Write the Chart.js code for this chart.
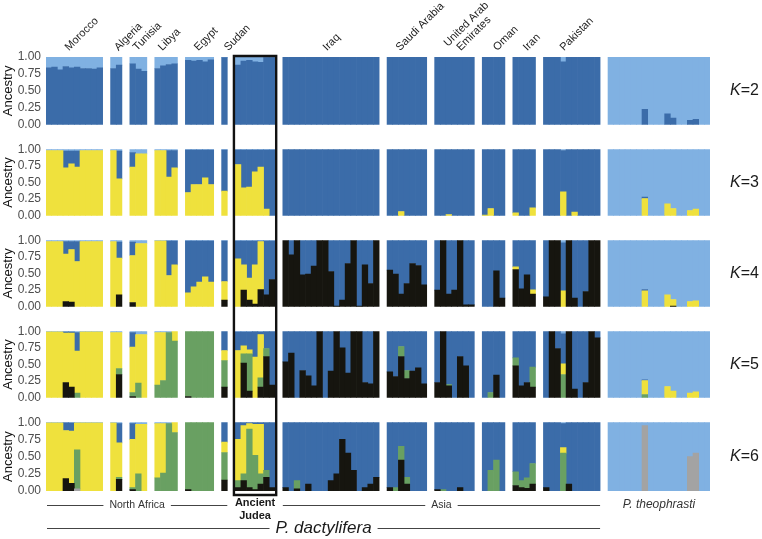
<!DOCTYPE html>
<html>
<head>
<meta charset="utf-8">
<script src="https://cdn.jsdelivr.net/npm/chart.js@4.4.1/dist/chart.umd.min.js"></script>
<style>
  body { margin: 0; background: #fff; }
  #wrap { position: relative; width: 762px; height: 539px; overflow: hidden; }
  #wrap canvas { position: absolute; left: 0; }
</style>
</head>
<body>
<div id="wrap"></div>
<script>
// populations in plot order and number of individuals in each
const populations = ['Morocco', 'Algeria', 'Tunisia', 'Libya', 'Egypt', 'Sudan', 'Ancient Judea',
  'Iraq', 'Saudi Arabia', 'United Arab Emirates', 'Oman', 'Iran', 'Pakistan', 'P. theophrasti'];
const popSizes = [10, 2, 3, 4, 5, 1, 7, 17, 7, 7, 4, 4, 10, 18];
const popLabels = ['Morocco', 'Algeria', 'Tunisia', 'Libya', 'Egypt', 'Sudan', '',
  'Iraq', 'Saudi Arabia', 'United Arab\nEmirates', 'Oman', 'Iran', 'Pakistan', ''];
const kValues = [2, 3, 4, 5, 6];
const yTicks = [0, 0.25, 0.5, 0.75, 1];

// ancestry proportions, one value per individual (groups on separate lines)
// K=2
const k2Blue = [
  .84, .85, .81, .86, .84, .85, .83, .83, .82, .84,
  .83, .88,
  .90, .82, .79,
  .83, .87, .89, .90,
  .95, .94, .95, .93, .96,
  .99,
  .88, .94, .95, .93, .92, .99, .99,
  1, 1, 1, 1, 1, 1, 1, 1, 1, 1, 1, 1, 1, 1, 1, 1, 1,
  1, 1, 1, 1, 1, 1, 1,
  1, 1, 1, 1, 1, 1, 1,
  1, 1, 1, 1,
  1, 1, 1, 1,
  1, 1, 1, .93, 1, 1, 1, 1, 1, 1,
  0, 0, 0, 0, 0, 0, .23, 0, 0, 0, .16, .10, 0, 0, .065, .08, 0, 0
];
const k2Light = [
  .16, .15, .19, .14, .16, .15, .17, .17, .18, .16,
  .17, .12,
  .10, .18, .21,
  .17, .13, .11, .10,
  .05, .06, .05, .07, .04,
  .01,
  .12, .06, .05, .07, .08, .01, .01,
  0, 0, 0, 0, 0, 0, 0, 0, 0, 0, 0, 0, 0, 0, 0, 0, 0,
  0, 0, 0, 0, 0, 0, 0,
  0, 0, 0, 0, 0, 0, 0,
  0, 0, 0, 0,
  0, 0, 0, 0,
  0, 0, 0, .07, 0, 0, 0, 0, 0, 0,
  1, 1, 1, 1, 1, 1, .77, 1, 1, 1, .84, .90, 1, 1, .935, .92, 1, 1
];

// K=3
const k3Yellow = [
  .98, .98, .98, .72, .78, .73, .98, .98, .98, .98,
  .98, .555,
  .73, .93, .93,
  .98, .98, .58, .72,
  .35, .47, .47, .57, .47,
  .37,
  .77, .42, .43, .66, .73, .10, 0,
  0, 0, 0, 0, 0, 0, 0, 0, 0, 0, 0, 0, 0, 0, 0, 0, 0,
  0, 0, .065, 0, 0, 0, 0,
  0, 0, .02, 0, 0, 0, 0,
  .01, .11, 0, 0,
  .045, 0, 0, .12,
  0, 0, 0, .36, 0, .055, 0, 0, 0, 0,
  0, 0, 0, 0, 0, 0, .26, 0, 0, 0, .18, .11, 0, 0, .08, .10, 0, 0
];
const k3Blue = [
  0, 0, 0, .25, .19, .24, 0, 0, 0, 0,
  0, .415,
  .22, 0, 0,
  0, 0, .40, .26,
  .64, .52, .52, .42, .52,
  .62,
  .22, .57, .56, .33, .26, .89, .99,
  1, 1, 1, 1, 1, 1, 1, 1, 1, 1, 1, 1, 1, 1, 1, 1, 1,
  1, 1, .935, 1, 1, 1, 1,
  1, 1, .98, 1, 1, 1, 1,
  .99, .89, 1, 1,
  .955, 1, 1, .88,
  1, 1, 1, .62, 1, .945, 1, 1, 1, 1,
  0, 0, 0, 0, 0, 0, .02, 0, 0, 0, 0, 0, 0, 0, 0, 0, 0, 0
];
const k3Light = [
  .02, .02, .02, .03, .03, .03, .02, .02, .02, .02,
  .02, .03,
  .05, .07, .07,
  .02, .02, .02, .02,
  .01, .01, .01, .01, .01,
  .01,
  .01, .01, .01, .01, .01, .01, .01,
  0, 0, 0, 0, 0, 0, 0, 0, 0, 0, 0, 0, 0, 0, 0, 0, 0,
  0, 0, 0, 0, 0, 0, 0,
  0, 0, 0, 0, 0, 0, 0,
  0, 0, 0, 0,
  0, 0, 0, 0,
  0, 0, 0, .02, 0, 0, 0, 0, 0, 0,
  1, 1, 1, 1, 1, 1, .72, 1, 1, 1, .82, .89, 1, 1, .92, .90, 1, 1
];

// K=4
const k4Black = [
  0, 0, 0, .08, .07, 0, 0, 0, 0, 0,
  0, .18,
  .065, 0, 0,
  0, 0, 0, 0,
  0, 0, 0, 0, 0,
  .10,
  0, .25, .10, .04, .26, .18, .41,
  1, .78, 1, .48, .49, .61, 1, 1, .53, .01, .10, .65, 1, .01, .63, .35, 1,
  .55, .49, .19, .35, .65, .62, .33,
  .25, 1, .19, .25, 1, .03, .03,
  0, 0, .54, .13,
  .56, .27, .48, .19,
  .15, 1, 1, 0, 1, .13, 0, .23, 1, 1,
  0, 0, 0, 0, 0, 0, 0, 0, 0, 0, 0, .01, 0, 0, 0, 0, 0, 0
];
const k4Yellow = [
  .98, .98, .98, .71, .79, .68, .98, .98, .98, .98,
  .98, .55,
  .705, .95, .95,
  .99, .99, .47, .63,
  .21, .30, .37, .45, .37,
  .28,
  .72, .38, .33, .59, .72, 0, 0,
  0, 0, 0, 0, 0, 0, 0, 0, 0, 0, 0, 0, 0, 0, 0, 0, 0,
  0, 0, 0, 0, 0, 0, 0,
  0, 0, 0, 0, 0, 0, 0,
  0, 0, 0, 0,
  .04, 0, 0, .065,
  0, 0, 0, .24, 0, 0, 0, 0, 0, 0,
  0, 0, 0, 0, 0, 0, .24, 0, 0, 0, .18, .10, 0, 0, .08, .09, 0, 0
];
const k4Blue = [
  0, 0, 0, .19, .12, .30, 0, 0, 0, 0,
  0, .24,
  .20, 0, 0,
  0, 0, .52, .36,
  .78, .69, .62, .54, .62,
  .61,
  .27, .36, .56, .36, .01, .81, .58,
  0, .22, 0, .52, .51, .39, 0, 0, .47, .99, .90, .35, 0, .99, .37, .65, 0,
  .45, .51, .81, .65, .35, .38, .67,
  .75, 0, .81, .75, 0, .97, .97,
  1, 1, .46, .87,
  .40, .73, .52, .745,
  .85, 0, 0, .72, 0, .87, 1, .77, 0, 0,
  0, 0, 0, 0, 0, 0, .02, 0, 0, 0, 0, 0, 0, 0, 0, 0, 0, 0
];
const k4Light = [
  .02, .02, .02, .02, .02, .02, .02, .02, .02, .02,
  .02, .03,
  .03, .05, .05,
  .01, .01, .01, .01,
  .01, .01, .01, .01, .01,
  .01,
  .01, .01, .01, .01, .01, .01, .01,
  0, 0, 0, 0, 0, 0, 0, 0, 0, 0, 0, 0, 0, 0, 0, 0, 0,
  0, 0, 0, 0, 0, 0, 0,
  0, 0, 0, 0, 0, 0, 0,
  0, 0, 0, 0,
  0, 0, 0, 0,
  0, 0, 0, .04, 0, 0, 0, 0, 0, 0,
  1, 1, 1, 1, 1, 1, .74, 1, 1, 1, .82, .89, 1, 1, .92, .91, 1, 1
];

// K=5
const k5Black = [
  0, 0, 0, .23, .16, 0, 0, 0, 0, 0,
  0, .35,
  .02, 0, 0,
  0, 0, 0, 0,
  .02, 0, 0, 0, 0,
  .16,
  0, .52, .10, 0, .16, .62, .19,
  .54, .67, 0, .41, .33, .18, 1, 0, .40, 1, .75, .37, 1, 1, .23, .21, 1,
  .39, .32, .62, .29, .40, .45, .21,
  .23, 1, .18, 0, .62, .48, 0,
  0, 0, .34, 0,
  .48, .18, .23, .16,
  0, 1, .74, 0, 1, .13, 0, .23, 1, .90,
  0, 0, 0, 0, 0, 0, 0, 0, 0, 0, 0, 0, 0, 0, 0, 0, 0, 0
];
const k5Green = [
  0, 0, 0, 0, 0, .07, 0, 0, 0, 0,
  0, .09,
  .06, .22, 0,
  .19, .26, .98, .85,
  .98, 1, 1, 1, 1,
  .40,
  0, .14, .56, 0, .14, .12, 0,
  0, 0, 0, 0, 0, 0, 0, 0, 0, 0, 0, 0, 0, 0, 0, 0, 0,
  0, 0, .15, .12, 0, 0, 0,
  0, 0, .02, 0, 0, 0, 0,
  0, .08, 0, 0,
  .12, 0, 0, .30,
  0, 0, 0, .35, 0, 0, 0, 0, 0, 0,
  0, 0, 0, 0, 0, 0, .05, 0, 0, 0, 0, 0, 0, 0, 0, 0, 0, 0
];
const k5Yellow = [
  .99, .99, .99, .74, .81, .63, .99, .99, .99, .99,
  .98, .54,
  .68, .73, .95,
  .79, .72, 0, .15,
  0, 0, 0, 0, 0,
  .15,
  .71, .12, .06, .61, .65, 0, 0,
  0, 0, 0, 0, 0, 0, 0, 0, 0, 0, 0, 0, 0, 0, 0, 0, 0,
  0, 0, 0, 0, 0, 0, 0,
  0, 0, 0, 0, 0, 0, 0,
  0, 0, 0, 0,
  0, 0, 0, 0,
  0, 0, 0, .16, 0, 0, 0, 0, 0, 0,
  0, 0, 0, 0, 0, 0, .21, 0, 0, 0, .17, .10, 0, 0, .07, .09, 0, 0
];
const k5Blue = [
  0, 0, 0, .02, .02, .28, 0, 0, 0, 0,
  0, 0,
  .22, 0, 0,
  0, 0, 0, 0,
  0, 0, 0, 0, 0,
  .29,
  .28, .21, .27, .39, .04, .26, .81,
  .46, .33, 1, .59, .67, .82, 0, 1, .60, 0, .25, .63, 0, 0, .77, .79, 0,
  .61, .68, .23, .59, .60, .55, .79,
  .77, 0, .80, 1, .38, .52, 1,
  1, .92, .66, 1,
  .40, .82, .77, .54,
  1, 0, .26, .45, 0, .87, 1, .77, 0, .10,
  0, 0, 0, 0, 0, 0, .01, 0, 0, 0, 0, 0, 0, 0, 0, 0, 0, 0
];
const k5Light = [
  .01, .01, .01, .01, .01, .02, .01, .01, .01, .01,
  .02, .02,
  .02, .05, .05,
  .02, .02, .02, 0,
  0, 0, 0, 0, 0,
  0,
  .01, .01, .01, 0, .01, 0, 0,
  0, 0, 0, 0, 0, 0, 0, 0, 0, 0, 0, 0, 0, 0, 0, 0, 0,
  0, 0, 0, 0, 0, 0, 0,
  0, 0, 0, 0, 0, 0, 0,
  0, 0, 0, 0,
  0, 0, 0, 0,
  0, 0, 0, .04, 0, 0, 0, 0, 0, 0,
  1, 1, 1, 1, 1, 1, .73, 1, 1, 1, .83, .90, 1, 1, .93, .91, 1, 1
];

// K=6
const k6Gray = [
  0, 0, 0, 0, 0, .03, 0, 0, 0, 0,
  0, 0,
  0, 0, 0,
  0, 0, 0, 0,
  0, 0, 0, 0, 0,
  0,
  0, 0, 0, 0, 0, 0, 0,
  0, 0, 0, 0, 0, 0, 0, 0, 0, 0, 0, 0, 0, 0, 0, 0, 0,
  0, 0, 0, 0, 0, 0, 0,
  0, 0, 0, 0, 0, 0, 0,
  0, 0, 0, 0,
  0, 0, 0, 0,
  0, 0, 0, 0, 0, 0, 0, 0, 0, 0,
  0, 0, 0, 0, 0, 0, .95, 0, 0, 0, 0, 0, 0, 0, .50, .55, 0, 0
];
const k6Black = [
  0, 0, 0, .18, .11, 0, 0, 0, 0, 0,
  0, .17,
  .02, 0, 0,
  0, 0, 0, 0,
  .02, 0, 0, 0, 0,
  .16,
  .05, .15, .05, .02, .10, .20, .05,
  .05, 0, .03, 0, .10, 0, 0, 0, .15, .25, .75, .55, .30, 0, .05, .10, .20,
  .05, 0, .45, .10, 0, 0, 0,
  .02, 0, 0, 0, .05, 0, 0,
  0, 0, 0, 0,
  .08, .05, .04, .10,
  .05, 0, 0, 0, .10, 0, 0, 0, 0, 0,
  0, 0, 0, 0, 0, 0, 0, 0, 0, 0, 0, 0, 0, 0, 0, 0, 0, 0
];
const k6Green = [
  0, 0, 0, 0, 0, .57, 0, 0, 0, 0,
  0, .03,
  .03, .25, 0,
  .19, .26, .98, .85,
  .98, 1, 1, 1, 1,
  .40,
  .10, .10, .85, .50, .15, .10, 0,
  0, 0, .12, 0, 0, 0, 0, 0, 0, 0, 0, 0, 0, 0, 0, 0, 0,
  0, .05, .20, .10, 0, 0, 0,
  0, .02, 0, 0, 0, 0, 0,
  0, .30, .45, 0,
  .20, .10, .15, .30,
  0, 0, 0, .55, 0, 0, 0, 0, 0, 0,
  0, 0, 0, 0, 0, 0, 0, 0, 0, 0, 0, 0, 0, 0, 0, 0, 0, 0
];
const k6Yellow = [
  .99, .99, .99, .70, .76, .39, .99, .99, .99, .99,
  .99, .50,
  .70, .72, .97,
  .79, .72, 0, .15,
  0, 0, 0, 0, 0,
  .15,
  .60, .70, .08, .45, .72, 0, 0,
  0, 0, 0, 0, 0, 0, 0, 0, 0, 0, 0, 0, 0, 0, 0, 0, 0,
  0, 0, 0, 0, 0, 0, 0,
  0, 0, 0, 0, 0, 0, 0,
  0, 0, 0, 0,
  0, 0, 0, 0,
  0, 0, 0, .08, 0, 0, 0, 0, 0, 0,
  0, 0, 0, 0, 0, 0, 0, 0, 0, 0, 0, 0, 0, 0, 0, 0, 0, 0
];
const k6Blue = [
  0, 0, 0, .115, .12, 0, 0, 0, 0, 0,
  0, .28,
  .23, 0, 0,
  0, 0, 0, 0,
  0, 0, 0, 0, 0,
  .29,
  .25, .05, .02, .03, .03, .70, .95,
  .95, 1, .85, 1, .90, 1, 1, 1, .85, .75, .25, .45, .70, 1, .95, .90, .80,
  .95, .95, .35, .80, 1, 1, 1,
  .98, .98, 1, 1, .95, 1, 1,
  1, .70, .55, 1,
  .72, .85, .81, .60,
  .95, 1, 1, .35, .90, 1, 1, 1, 1, 1,
  0, 0, 0, 0, 0, 0, 0, 0, 0, 0, 0, 0, 0, 0, 0, 0, 0, 0
];
const k6Light = [
  .01, .01, .01, .005, .01, .01, .01, .01, .01, .01,
  .01, .02,
  .02, .03, .03,
  .02, .02, .02, 0,
  0, 0, 0, 0, 0,
  0,
  0, 0, 0, 0, 0, 0, 0,
  0, 0, 0, 0, 0, 0, 0, 0, 0, 0, 0, 0, 0, 0, 0, 0, 0,
  0, 0, 0, 0, 0, 0, 0,
  0, 0, 0, 0, 0, 0, 0,
  0, 0, 0, 0,
  0, 0, 0, 0,
  0, 0, 0, .02, 0, 0, 0, 0, 0, 0,
  1, 1, 1, 1, 1, 1, .05, 1, 1, 1, 1, 1, 1, 1, .50, .45, 1, 1
];

// colours of the ancestry clusters
const darkBlue = '#3b6ca9';
const lightBlue = '#80b1e2';
const yellow = '#efe13d';
const black = '#16150f';
const green = '#69a062';
const gray = '#a3a3a3';

// stacking order bottom -> top for each K
const rowSeries = [
  [[k2Blue, darkBlue], [k2Light, lightBlue]],
  [[k3Yellow, yellow], [k3Blue, darkBlue], [k3Light, lightBlue]],
  [[k4Black, black], [k4Yellow, yellow], [k4Blue, darkBlue], [k4Light, lightBlue]],
  [[k5Black, black], [k5Green, green], [k5Yellow, yellow], [k5Blue, darkBlue], [k5Light, lightBlue]],
  [[k6Gray, gray], [k6Black, black], [k6Green, green], [k6Yellow, yellow], [k6Blue, darkBlue], [k6Light, lightBlue]]
];

// x position of each individual, with a gap between populations
const groupGap = 1.4;
const xPos = [], groupStart = [], groupEnd = [];
let cursor = 0;
popSizes.forEach(n => {
  groupStart.push(cursor);
  for (let i = 0; i < n; i++) xPos.push(cursor + i);
  groupEnd.push(cursor + n - 1);
  cursor += n + groupGap;
});
const JUDEA = populations.indexOf('Ancient Judea');
const THEO = populations.indexOf('P. theophrasti');

// label nudges in px (labels were placed by hand in the original figure)
const labelNudge = [-7.5, 0, -3.5, -6, -3.4, 1.6, 0, -6, -9, 4, 1.6, 1, -10, 0];

const FONT = "'Liberation Sans', Arial, Helvetica, sans-serif";
Chart.defaults.font.family = FONT;

// layout of the five panels
const rowTops = [57, 146, 237, 328, 419];
const plotH = 72;
const W = 762, H = 539;

function groupLeft(xs, g) { return xs.getPixelForValue(groupStart[g] - 0.5); }
function groupRight(xs, g) { return xs.getPixelForValue(groupEnd[g] + 0.5); }

function lineWithText(ctx, l, r, y, text, font, color) {
  ctx.save();
  ctx.font = font;
  const w = ctx.measureText(text).width;
  const c = (l + r) / 2;
  ctx.strokeStyle = '#444';
  ctx.lineWidth = 1;
  ctx.beginPath();
  ctx.moveTo(l, y + 0.5); ctx.lineTo(c - w / 2 - 6, y + 0.5);
  ctx.moveTo(c + w / 2 + 6, y + 0.5); ctx.lineTo(r, y + 0.5);
  ctx.stroke();
  ctx.fillStyle = color;
  ctx.textAlign = 'center';
  ctx.textBaseline = 'middle';
  ctx.fillText(text, c, y);
  ctx.restore();
}

const overlay = {
  id: 'overlay',
  afterDraw(chart, args, opts) {
    const { ctx, chartArea } = chart;
    const xs = chart.scales.x;
    const row = opts.row;
    ctx.save();

    // K label
    const ky = (chartArea.top + chartArea.bottom) / 2;
    ctx.fillStyle = '#1a1a1a';
    ctx.textBaseline = 'middle';
    ctx.textAlign = 'left';
    ctx.font = 'italic 16px ' + FONT;
    ctx.fillText('K', 730, ky);
    const kw = ctx.measureText('K').width;
    ctx.font = '16px ' + FONT;
    ctx.fillText('=' + kValues[row], 730 + kw, ky);

    // box around Ancient Judea
    const bl = groupLeft(xs, JUDEA) - 1.3;
    const br = groupRight(xs, JUDEA) + 1.3;
    const top = row === 0 ? chartArea.top - 1 : 0;
    const bottom = row === 4 ? chartArea.bottom + 4 : chart.height;
    ctx.strokeStyle = '#111';
    ctx.lineWidth = 2.4;
    ctx.beginPath();
    ctx.moveTo(bl, top); ctx.lineTo(bl, bottom);
    ctx.moveTo(br, top); ctx.lineTo(br, bottom);
    if (row === 0) { ctx.moveTo(bl - 1.2, top); ctx.lineTo(br + 1.2, top); }
    if (row === 4) { ctx.moveTo(bl - 1.2, bottom); ctx.lineTo(br + 1.2, bottom); }
    ctx.stroke();

    // population names above the first panel
    if (row === 0) {
      ctx.fillStyle = '#222';
      ctx.font = '11px ' + FONT;
      ctx.textAlign = 'left';
      ctx.textBaseline = 'middle';
      popLabels.forEach((lab, g) => {
        if (!lab) return;
        const cx = (groupLeft(xs, g) + groupRight(xs, g)) / 2 + labelNudge[g];
        ctx.save();
        ctx.translate(cx, chartArea.top - 8);
        ctx.rotate(-Math.PI / 4);
        const lines = lab.split('\n');
        lines.forEach((ln, i) => {
          const back = lines.length - 1 - i;
          ctx.fillText(ln, -6 * back, -12 * back);
        });
        ctx.restore();
      });
    }

    // region labels under the last panel
    if (row === 4) {
      const y1 = chartArea.bottom + 14;
      const y2 = chartArea.bottom + 37;
      lineWithText(ctx, groupLeft(xs, 0) + 1, groupRight(xs, JUDEA - 1), y1,
        'North Africa', '10.5px ' + FONT, '#333');
      lineWithText(ctx, groupLeft(xs, JUDEA + 1), groupRight(xs, THEO - 1), y1,
        'Asia', '10.5px ' + FONT, '#333');
      lineWithText(ctx, groupLeft(xs, 0) + 1, groupRight(xs, THEO - 1), y2,
        'P. dactylifera', 'italic 17px ' + FONT, '#1a1a1a');
      const jc = (groupLeft(xs, JUDEA) + groupRight(xs, JUDEA)) / 2;
      ctx.fillStyle = '#1a1a1a';
      ctx.textAlign = 'center';
      ctx.textBaseline = 'middle';
      ctx.font = 'bold 11px ' + FONT;
      ctx.fillText('Ancient', jc, chartArea.bottom + 12);
      ctx.fillText('Judea', jc, chartArea.bottom + 25);
      const tc = (groupLeft(xs, THEO) + groupRight(xs, THEO)) / 2;
      ctx.font = 'italic 12px ' + FONT;
      ctx.fillStyle = '#333';
      ctx.fillText('P. theophrasti', tc, y1);
    }
    ctx.restore();
  }
};

const wrap = document.getElementById('wrap');
rowSeries.forEach((series, r) => {
  const cTop = r === 0 ? 0 : rowTops[r] - 9;
  const cBottom = r === rowSeries.length - 1 ? H : rowTops[r + 1] - 9;
  const canvas = document.createElement('canvas');
  canvas.width = W;
  canvas.height = cBottom - cTop;
  canvas.style.top = cTop + 'px';
  wrap.appendChild(canvas);

  const padTop = rowTops[r] - cTop;
  const padBottom = (cBottom - cTop) - padTop - plotH;

  new Chart(canvas, {
    type: 'bar',
    data: {
      datasets: series.map(([vals, color]) => ({
        data: vals.map((v, i) => ({ x: xPos[i], y: v > 0 ? v : null })),
        backgroundColor: color,
        borderWidth: 0,
        barPercentage: 1,
        categoryPercentage: 1
      }))
    },
    options: {
      responsive: false,
      animation: false,
      events: [],
      layout: { padding: { left: 0, right: 52, top: padTop, bottom: padBottom } },
      plugins: {
        legend: { display: false },
        tooltip: { enabled: false },
        overlay: { row: r }
      },
      scales: {
        x: {
          type: 'linear',
          stacked: true,
          display: false,
          offset: false,
          min: -0.5,
          max: xPos[xPos.length - 1] + 0.5
        },
        y: {
          stacked: true,
          min: 0,
          max: 1,
          afterBuildTicks: axis => { axis.ticks = yTicks.map(v => ({ value: v })); },
          afterFit: axis => { axis.width = 46; },
          grid: { display: false, drawTicks: false },
          border: { display: false },
          ticks: {
            padding: 5,
            color: '#4d4d4d',
            font: { size: 12 },
            callback: v => v.toFixed(2)
          },
          title: {
            display: true,
            text: 'Ancestry',
            color: '#111',
            font: { size: 13 },
            padding: { top: 1, bottom: 0 }
          }
        }
      }
    },
    plugins: [overlay]
  });
});
</script>
</body>
</html>
